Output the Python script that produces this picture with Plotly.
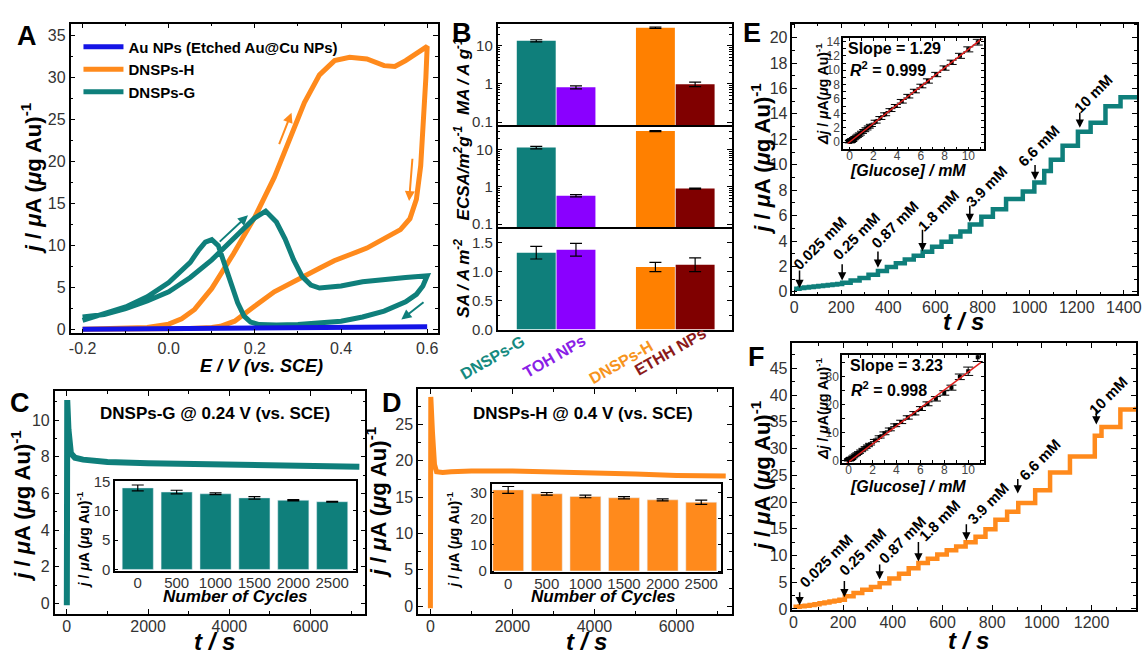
import plotly.graph_objects as go

FONT = "Liberation Sans, Arial, sans-serif"
W, H = 1146, 658

# ---------------- Panel A : cyclic voltammograms (E / V, j) ----------------
A_au_E = [-0.2, -0.1, 0.0, 0.1, 0.2, 0.3, 0.4, 0.5, 0.6, 0.5, 0.4, 0.3, 0.2, 0.1, 0.0, -0.1, -0.2]
A_au_j = [0.05, 0.08, 0.1, 0.12, 0.15, 0.18, 0.22, 0.27, 0.35, 0.2, 0.15, 0.12, 0.1, 0.08, 0.06, 0.05, 0.05]

A_H_E = [-0.2, -0.1, -0.05, 0.0, 0.03, 0.06, 0.1, 0.15, 0.2, 0.245, 0.285, 0.315, 0.35, 0.385,
         0.42, 0.46, 0.5, 0.525, 0.55, 0.575, 0.6,
         0.597, 0.592, 0.585, 0.575, 0.56, 0.538, 0.5, 0.46, 0.42, 0.384, 0.35, 0.307, 0.27,
         0.245, 0.2, 0.153, 0.12, 0.1, 0.05, 0.0, -0.1, -0.2]
A_H_j = [0.05, 0.1, 0.25, 0.65, 1.3, 2.4, 4.9, 9.0, 13.4, 18.1, 23.1, 27.0, 30.3, 32.0,
         32.4, 32.2, 31.4, 31.3, 32.0, 32.9, 33.7,
         30.0, 25.0, 19.5, 15.5, 13.2, 11.9, 10.8, 9.7, 8.9, 8.2, 7.3, 6.1, 5.1,
         4.5, 2.8, 1.0, 0.4, 0.25, 0.12, 0.08, 0.06, 0.05]

A_G_E = [-0.2, -0.15, -0.1, -0.05, 0.0, 0.05, 0.1, 0.15, 0.2, 0.225, 0.25, 0.27, 0.29, 0.31,
         0.33, 0.35, 0.4, 0.45, 0.5, 0.55, 0.6,
         0.59, 0.575, 0.55, 0.5, 0.45, 0.4, 0.35, 0.3, 0.25, 0.21, 0.19, 0.175, 0.16, 0.145,
         0.13, 0.115, 0.1, 0.085, 0.07, 0.05, 0.0, -0.05, -0.1, -0.15, -0.19, -0.2]
A_G_j = [1.5, 1.8, 2.5, 3.4, 4.5, 6.2, 8.3, 10.8, 13.3, 14.1, 12.8, 10.8, 8.3, 6.3,
         5.3, 4.95, 5.2, 5.7, 6.0, 6.2, 6.4,
         5.2, 4.2, 3.3, 2.2, 1.5, 1.0, 0.75, 0.6, 0.55, 0.6, 0.9, 1.6, 3.2, 5.5,
         8.0, 10.0, 10.7, 10.4, 9.5, 8.0, 5.6, 3.9, 2.7, 1.9, 1.3, 1.1]

A_names = ["Au NPs (Etched Au@Cu NPs)", "DNSPs-H", "DNSPs-G"]

# scan-direction arrows: (tail E, tail j, head E, head j)
A_arrows_H = [(0.255, 21.9, 0.285, 25.8), (0.566, 20.5, 0.558, 15.3)]
A_arrows_G = [(0.115, 10.3, 0.184, 13.6), (0.595, 3.4, 0.54, 1.2)]

# ---------------- Panel B : activities ----------------
B_cats = ["DNSPs-G", "TOH NPs", "DNSPs-H", "ETHH NPs"]
B_MA = [13.4, 0.81, 29.4, 0.98]
B_MA_err = [0.9, 0.07, 1.2, 0.13]
B_ECSA = [11.3, 0.58, 31.3, 0.90]
B_ECSA_err = [0.9, 0.04, 1.0, 0.03]
B_SA = [1.33, 1.38, 1.08, 1.12]
B_SA_err = [0.11, 0.11, 0.08, 0.12]

# ---------------- Panels C, D : chronoamperometry ----------------
C_t = [0, 10, 40, 100, 200, 400, 700, 1000, 2000, 3000, 4000, 5000, 6000, 7200]
C_j = [-0.1, 11.1, 9.5, 8.2, 7.95, 7.85, 7.78, 7.72, 7.65, 7.6, 7.55, 7.52, 7.5, 7.46]
D_t = [0, 10, 50, 100, 150, 300, 500, 1000, 2000, 3000, 4000, 5000, 6000, 7200]
D_j = [-0.3, 28.8, 24.0, 19.5, 18.5, 18.4, 18.5, 18.6, 18.6, 18.5, 18.4, 18.2, 18.0, 17.9]

cycles = ["0", "500", "1000", "1500", "2000", "2500"]
C_in = [13.9, 13.2, 12.9, 12.2, 11.8, 11.55]
C_in_err = [0.5, 0.3, 0.15, 0.2, 0.1, 0.08]
D_in = [31.0, 29.5, 28.5, 28.0, 27.2, 26.3]
D_in_err = [1.3, 0.5, 0.5, 0.4, 0.4, 0.8]

# ---------------- Panels E, F : amperometric glucose response ----------------
E_t = [0, 23, 43, 63, 83, 103, 123, 143, 163, 183, 204, 240, 278, 316, 356, 394, 432, 470, 508,
       546, 586, 626, 666, 706, 746, 795, 844, 900, 971, 1020, 1062, 1090, 1140, 1205, 1259,
       1322, 1386, 1456]
E_j = [0.25, 0.3, 0.34, 0.38, 0.42, 0.46, 0.5, 0.54, 0.58, 0.62, 0.72, 0.9, 1.1, 1.35, 1.65,
       1.95, 2.25, 2.55, 2.85, 3.15, 3.55, 3.95, 4.35, 4.75, 5.3, 5.9, 6.5, 7.3, 7.9, 8.6, 9.5,
       10.4, 11.5, 12.6, 13.3, 14.6, 15.3, 15.4]
F_t = [0, 25, 45, 65, 85, 105, 125, 145, 165, 185, 207, 242, 277, 312, 347, 386, 425, 464, 503,
       541, 579, 617, 655, 693, 733, 773, 813, 860, 905, 973, 1033, 1113, 1213, 1240, 1316, 1379]
F_j = [0.4, 0.5, 0.6, 0.75, 0.9, 1.05, 1.2, 1.4, 1.55, 1.75, 2.4, 3.0, 3.6, 4.1, 4.8, 5.7, 6.6,
       7.6, 8.6, 9.4, 10.2, 11.0, 11.7, 12.5, 13.5, 14.9, 16.7, 18.2, 19.8, 22.2, 25.5, 28.5,
       32.4, 34.0, 37.3, 37.8]

conc_labels = ["0.025 mM", "0.25 mM", "0.87 mM", "1.8 mM", "3.9 mM", "6.6 mM", "10 mM"]
E_arrow_t = [23, 204, 356, 545, 746, 1023, 1213]
E_arrow_top = [1.8, 2.3, 3.3, 5.0, 6.9, 10.1, 14.2]
E_arrow_tip = [0.3, 0.9, 1.9, 3.2, 5.5, 8.8, 12.9]
F_arrow_t = [25, 205, 347, 503, 696, 903, 1219]
F_arrow_top = [3.4, 5.5, 8.6, 12.8, 16.1, 24.6, 37.6]
F_arrow_tip = [0.7, 2.2, 5.5, 8.9, 12.8, 21.6, 34.5]

conc = [0.025, 0.05, 0.075, 0.1, 0.125, 0.15, 0.175, 0.2, 0.225, 0.25, 0.37, 0.49, 0.62, 0.74,
        0.87, 1.05, 1.24, 1.43, 1.62, 1.8, 2.2, 2.6, 3.0, 3.45, 3.9, 4.4, 4.95, 5.5, 6.05, 6.6,
        7.3, 8.0, 8.6, 9.3, 10.0, 10.8]
E_dj = [0.05, 0.08, 0.11, 0.14, 0.17, 0.2, 0.23, 0.26, 0.29, 0.32, 0.48, 0.63, 0.8, 0.95, 1.12,
        1.36, 1.6, 1.84, 2.09, 2.32, 2.84, 3.35, 3.87, 4.45, 5.03, 5.68, 6.39, 7.1, 7.8, 8.5,
        9.4, 10.3, 11.1, 12.0, 12.9, 13.9]
E_dj_err = [0.15] * 20 + [0.2, 0.2, 0.2, 0.2, 0.2, 0.25, 0.25, 0.25, 0.25, 0.3, 0.3, 0.3, 0.3,
                          0.35, 0.35, 0.4]
F_dj = [0.08, 0.16, 0.24, 0.32, 0.4, 0.48, 0.56, 0.65, 0.73, 0.81, 1.2, 1.6, 2.0, 2.4, 2.8,
        3.4, 4.0, 4.6, 5.2, 5.8, 7.1, 8.4, 9.7, 11.1, 12.6, 13.8, 15.4, 16.9, 18.6, 20.3,
        22.1, 24.2, 26.1, 30.0, 32.0, 37.0]
F_dj_err = [0.3] * 20 + [0.4, 0.4, 0.5, 0.5, 0.5, 0.6, 0.6, 0.6, 0.7, 0.7, 0.8, 0.8, 0.9,
                         1.0, 1.5, 1.5]
E_slope, E_r2 = 1.29, 0.999
F_slope, F_r2 = 3.23, 0.998
fit_c = [-0.15, 11.1]

# ---------------- styling ----------------
TEAL = "#0f7f7b"
ORANGE = "#ff8a1c"
BLUE = "#1414e6"
B_colors = ["#0f7f7b", "#8a00ff", "#ff8000", "#800000"]
B_label_colors = ["#158a80", "#8a1ee6", "#f7941d", "#8b1a1a"]


def px(x):
    return x / W


def py(y):
    return 1 - y / H


def xdom(a, b):
    return [px(a), px(b)]


def ydom(top, bottom):
    return [py(bottom), py(top)]


def axis(domain, rng, anchor, dtick=None, minor=None, size=16, color="#333", **kw):
    d = dict(domain=domain, range=rng, anchor=anchor, showline=True, linecolor="black",
             linewidth=1.5, mirror="ticks", ticks="inside", ticklen=5, tickwidth=1.2,
             tickcolor="black", showgrid=False, zeroline=False, ticklabeloverflow="allow",
             tickfont=dict(family=FONT, size=size, color=color))
    if dtick is not None:
        d["dtick"] = dtick
    if minor is not None:
        d["minor"] = dict(ticks="inside", ticklen=3, tickwidth=1, tickcolor="black",
                          dtick=minor, showgrid=False)
    d.update(kw)
    return d


fig = go.Figure()
L = {}
ann = []

# ---------- A ----------
L["xaxis"] = axis(xdom(68, 438), [-0.228, 0.625], "y", tickvals=[-0.2, 0.0, 0.2, 0.4, 0.6],
                  ticktext=["-0.2", "0.0", "0.2", "0.4", "0.6"])
L["xaxis"]["minor"] = dict(ticks="inside", ticklen=3, tickvals=[-0.1, 0.1, 0.3, 0.5],
                           tickcolor="black")
L["yaxis"] = axis(ydom(15, 333), [-0.45, 36.4], "x", dtick=5, minor=2.5)
fig.add_trace(go.Scatter(x=A_H_E, y=A_H_j, mode="lines", name=A_names[1], legendrank=2,
                         line=dict(color=ORANGE, width=5), xaxis="x", yaxis="y"))
fig.add_trace(go.Scatter(x=A_G_E, y=A_G_j, mode="lines", name=A_names[2], legendrank=3,
                         line=dict(color=TEAL, width=5), xaxis="x", yaxis="y"))
fig.add_trace(go.Scatter(x=A_au_E, y=A_au_j, mode="lines", name=A_names[0], legendrank=1,
                         line=dict(color=BLUE, width=5), xaxis="x", yaxis="y"))
for arrows, col in ((A_arrows_H, ORANGE), (A_arrows_G, TEAL)):
    for (e0, j0, e1, j1) in arrows:
        ann.append(dict(x=e1, y=j1, ax=e0, ay=j0, xref="x", yref="y", axref="x", ayref="y",
                        text="", showarrow=True, arrowhead=2, arrowsize=1, arrowwidth=2,
                        arrowcolor=col, standoff=0))

# ---------- B ----------
bx = [i + (1 if i >= 2 else 0) for i in range(len(B_cats))]
b_rng = [-0.975, 4.925]
b_specs = [("2", B_MA, B_MA_err, (15, 119), "log", [-1.076, 1.578]),
           ("3", B_ECSA, B_ECSA_err, (119, 224), "log", [-1.08, 1.66]),
           ("4", B_SA, B_SA_err, (224, 329), "linear", [0, 1.77])]
for k, vals, errs, (t, b), typ, yr in b_specs:
    L["xaxis" + k] = axis(xdom(498, 734), b_rng, "y" + k, ticks="", showticklabels=False,
                          mirror=(k == "2"))
    if typ == "log":
        L["yaxis" + k] = axis(ydom(t, b), yr, "x" + k, size=15, type="log",
                              tickvals=[0.1, 1, 10], ticktext=["0.1", "1", "10"])
        L["yaxis" + k]["minor"] = dict(ticks="inside", ticklen=3, tickcolor="black",
                                       tickvals=[0.2, 0.3, 0.4, 0.5, 0.6, 0.7, 0.8, 0.9,
                                                 2, 3, 4, 5, 6, 7, 8, 9, 20, 30])
    else:
        L["yaxis" + k] = axis(ydom(t, b), yr, "x" + k, size=15, dtick=0.5, minor=0.25,
                              tickformat=".1f")
    fig.add_trace(go.Bar(x=bx, y=vals, width=0.98, marker=dict(color=B_colors, line=dict(width=0)),
                         error_y=dict(type="data", array=errs, color="black", thickness=1.2,
                                      width=6),
                         xaxis="x" + k, yaxis="y" + k, showlegend=False))

# ---------- C ----------
L["xaxis5"] = axis(xdom(52, 365), [-300, 7350], "y5", dtick=2000, minor=1000,
                   ticklabelstandoff=-3)
L["yaxis5"] = axis(ydom(392, 621), [-0.57, 11.6], "x5", dtick=2, minor=1)
fig.add_trace(go.Scatter(x=C_t, y=C_j, mode="lines", line=dict(color=TEAL, width=6),
                         xaxis="x5", yaxis="y5", showlegend=False))
L["xaxis6"] = axis(xdom(113, 355), [-0.58, 5.6], "y6", tickvals=list(range(len(cycles))),
                   ticktext=cycles, ticks="", size=15, ticklabelstandoff=-3)
L["yaxis6"] = axis(ydom(485, 577), [-0.28, 15.0], "x6", dtick=5, size=15, ticklen=3)
fig.add_trace(go.Bar(x=list(range(len(cycles))), y=C_in, width=0.8, marker_color=TEAL,
                     error_y=dict(type="data", array=C_in_err, color="black", thickness=1.2,
                                  width=6),
                     xaxis="x6", yaxis="y6", showlegend=False))

# ---------- D ----------
L["xaxis7"] = axis(xdom(418, 734), [-300, 7350], "y7", dtick=2000, minor=1000,
                   ticklabelstandoff=-3)
L["yaxis7"] = axis(ydom(390, 621), [-1.07, 29.9], "x7", dtick=5, minor=2.5)
fig.add_trace(go.Scatter(x=D_t, y=D_j, mode="lines", line=dict(color=ORANGE, width=5),
                         xaxis="x7", yaxis="y7", showlegend=False))
L["xaxis8"] = axis(xdom(492, 723), [-0.43, 5.51], "y8", tickvals=list(range(len(cycles))),
                   ticktext=cycles, ticks="", size=15, ticklabelstandoff=-3)
L["yaxis8"] = axis(ydom(488, 578), [-0.4, 33.1], "x8", dtick=10, size=15, ticklen=3)
fig.add_trace(go.Bar(x=list(range(len(cycles))), y=D_in, width=0.8, marker_color=ORANGE,
                     error_y=dict(type="data", array=D_in_err, color="black", thickness=1.2,
                                  width=6),
                     xaxis="x8", yaxis="y8", showlegend=False))

# ---------- E ----------
L["xaxis9"] = axis(xdom(795, 1142), [-7, 1456], "y9", dtick=200, minor=100,
                   ticklabelstandoff=-2)
L["yaxis9"] = axis(ydom(15, 293), [-0.2, 21.1], "x9", dtick=2, minor=1)
fig.add_trace(go.Scatter(x=E_t, y=E_j, mode="lines", line=dict(color=TEAL, width=4.5, shape="hv"),
                         xaxis="x9", yaxis="y9", showlegend=False))
L["xaxis10"] = axis(xdom(846, 988), [-0.54, 11.33], "y10", dtick=2, minor=1, size=12,
                    color="#444", ticklen=3, ticklabelstandoff=-5)
L["yaxis10"] = axis(ydom(30, 144), [-1.0, 14.45], "x10", dtick=2, minor=1, size=12,
                    color="#444", ticklen=3, ticklabelstandoff=-1)
fig.add_trace(go.Scatter(x=conc, y=E_dj, mode="markers",
                         marker=dict(symbol="square", size=4, color="black"),
                         error_y=dict(type="data", array=E_dj_err, color="black", thickness=1,
                                      width=5),
                         xaxis="x10", yaxis="y10", showlegend=False))
fig.add_trace(go.Scatter(x=fit_c, y=[E_slope * c for c in fit_c], mode="lines",
                         line=dict(color="#e0201e", width=1.5), xaxis="x10", yaxis="y10",
                         showlegend=False))

# ---------- F ----------
L["xaxis11"] = axis(xdom(795, 1141), [-4, 1379], "y11", dtick=200, minor=100,
                    ticklabelstandoff=-3)
L["yaxis11"] = axis(ydom(343, 617), [-0.2, 49.7], "x11", dtick=5, minor=2.5)
fig.add_trace(go.Scatter(x=F_t, y=F_j, mode="lines",
                         line=dict(color=ORANGE, width=4.5, shape="hv"),
                         xaxis="x11", yaxis="y11", showlegend=False))
L["xaxis12"] = axis(xdom(845, 988), [-0.54, 11.33], "y12", dtick=2, minor=1, size=12,
                    color="#444", ticklen=3, ticklabelstandoff=-5)
L["yaxis12"] = axis(ydom(355, 466), [-0.95, 37.9], "x12", dtick=10, minor=5, size=12,
                    color="#444", ticklen=3, ticklabelstandoff=-1)
fig.add_trace(go.Scatter(x=conc, y=F_dj, mode="markers",
                         marker=dict(symbol="square", size=4, color="black"),
                         error_y=dict(type="data", array=F_dj_err, color="black", thickness=1,
                                      width=5),
                         xaxis="x12", yaxis="y12", showlegend=False))
fig.add_trace(go.Scatter(x=fit_c, y=[F_slope * c - 0.6 for c in fit_c], mode="lines",
                         line=dict(color="#e0201e", width=1.5), xaxis="x12", yaxis="y12",
                         showlegend=False))

# arrows + concentration labels
E_lab_pos = [(823, 240), (860, 233), (898, 221), (942, 207), (990, 182), (1043, 140), (1098, 87)]
F_lab_pos = [(829, 566), (866, 557), (906, 545), (943, 525), (992, 508), (1044, 462), (1113, 397)]
for xs, ys, tops, tips, pos in (("x9", "y9", E_arrow_top, E_arrow_tip, E_lab_pos),
                                ("x11", "y11", F_arrow_top, F_arrow_tip, F_lab_pos)):
    ts = E_arrow_t if xs == "x9" else F_arrow_t
    for t, a, b, lab, (lx, ly) in zip(ts, tops, tips, conc_labels, pos):
        ann.append(dict(x=t, y=b, ax=t, ay=a, xref=xs, yref=ys, axref=xs, ayref=ys, text="",
                        showarrow=True, arrowhead=2, arrowsize=1.1, arrowwidth=1.5,
                        arrowcolor="black", standoff=0))
        ann.append(dict(x=px(lx), y=py(ly), xref="paper", yref="paper", text="<b>%s</b>" % lab,
                        showarrow=False, textangle=-45, xanchor="center", yanchor="middle",
                        font=dict(family=FONT, size=15, color="black")))


def text(x, y, s, size, angle=0, color="black"):
    ann.append(dict(x=px(x), y=py(y), xref="paper", yref="paper", text=s, showarrow=False,
                    textangle=angle, xanchor="center", yanchor="middle",
                    font=dict(family=FONT, size=size, color=color)))


JT = "<b><i>j</i> / <i>μ</i>A (<i>μ</i>g Au)<sup>-1</sup></b>"
# panel letters
for s, x, y in (("A", 24, 28), ("B", 462, 25), ("C", 17, 404), ("D", 392, 404),
                ("E", 754, 25), ("F", 759, 357)):
    text(x, y, "<b>%s</b>" % s, 27)
# axis titles
text(28, 174, JT, 22, -90)
text(260, 366, "<b><i>E / V (vs. SCE)</i></b>", 18)
text(462, 69, "<b><i>MA / A g<sup>-1</sup></i></b>", 17, -90)
text(462, 168, "<b><i>ECSA/m<sup>2</sup>g<sup>-1</sup></i></b>", 17, -90)
text(462, 276, "<b><i>SA / A m<sup>-2</sup></i></b>", 17, -90)
for (x, y), lab, col in zip([(493, 358), (555, 357), (622, 363), (672, 352)], B_cats,
                            B_label_colors):
    text(x, y, "<b>%s</b>" % lab, 16, -30, col)
text(18, 510, JT, 22, -90)
text(213, 649, "<b><i>t / s</i></b>", 24)
text(213, 415, "<b>DNSPs-G @ 0.24 V (vs. SCE)</b>", 17)
text(81, 545, JT, 14, -90)
text(234, 603, "<b><i>Number of Cycles</i></b>", 17)
text(376, 506, JT, 22, -90)
text(588, 649, "<b><i>t / s</i></b>", 24)
text(584, 415, "<b>DNSPs-H @ 0.4 V (vs. SCE)</b>", 17)
text(453, 545, JT, 14, -90)
text(605, 603, "<b><i>Number of Cycles</i></b>", 17)
text(763, 154, JT, 22, -90)
text(967, 321, "<b><i>t / s</i></b>", 24)
text(825, 87, "<b><i>Δj</i> / <i>μ</i>A(<i>μ</i>g Au)<sup>-1</sup></b>", 14, -90)
text(911, 166, "<b><i>[Glucose] / mM</i></b>", 16)
text(898, 41, "<b>Slope = %.2f</b>" % E_slope, 16)
text(891, 62, "<b><i>R</i><sup>2</sup> = %.3f</b>" % E_r2, 16)
text(763, 480, JT, 22, -90)
text(972, 648, "<b><i>t / s</i></b>", 24)
text(825, 410, "<b><i>Δj</i> / <i>μ</i>A(<i>μ</i>g Au)<sup>-1</sup></b>", 14, -90)
text(911, 490, "<b><i>[Glucose] / mM</i></b>", 16)
text(900, 366, "<b>Slope = %.2f</b>" % F_slope, 16)
text(892, 390, "<b><i>R</i><sup>2</sup> = %.3f</b>" % F_r2, 16)

fig.update_layout(
    width=W, height=H, margin=dict(l=0, r=0, t=0, b=0),
    paper_bgcolor="white", plot_bgcolor="white",
    font=dict(family=FONT, color="black"),
    showlegend=True,
    legend=dict(x=px(76), y=py(22), xanchor="left", yanchor="top", bgcolor="rgba(0,0,0,0)",
                font=dict(family=FONT, size=15, color="black", weight="bold"),
                itemwidth=40, tracegroupgap=0),
    annotations=ann,
    **L,
)
fig.write_html("out.html", config={"displayModeBar": False},
               post_script="document.body.style.margin='0';")
